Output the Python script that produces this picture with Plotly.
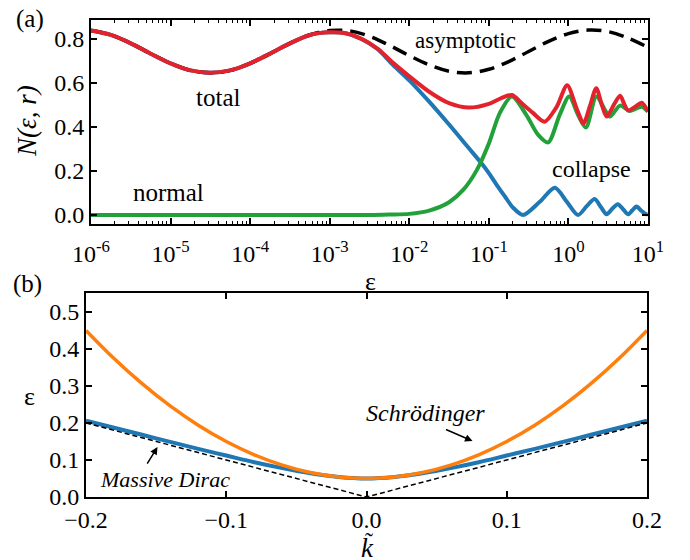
import plotly.graph_objects as go

# ---------------- Panel (a) data (log10 of epsilon, N values) ----------------
asym_log = [-6.0, -5.75, -5.5, -5.25, -5.0, -4.75, -4.5, -4.25, -4.0, -3.75, -3.5, -3.25,
            -3.0, -2.75, -2.5, -2.25, -2.0, -1.75, -1.5, -1.25, -1.0, -0.75, -0.5, -0.25,
            0.0, 0.25, 0.5, 0.75, 1.0]
asym_val = [0.838, 0.818, 0.780, 0.733, 0.689, 0.657, 0.646, 0.657, 0.689, 0.733, 0.780, 0.818,
            0.838, 0.836, 0.812, 0.771, 0.724, 0.682, 0.653, 0.646, 0.662, 0.697, 0.743, 0.789,
            0.824, 0.840, 0.833, 0.804, 0.762]

total_log = [-6.0, -5.75, -5.5, -5.25, -5.0, -4.75, -4.5, -4.25, -4.0, -3.75, -3.5, -3.25,
             -3.0, -2.8, -2.6, -2.4, -2.2, -2.0, -1.75, -1.5, -1.25, -1.0, -0.85, -0.71, -0.58,
             -0.45, -0.30, -0.15, -0.016, 0.10, 0.19, 0.27, 0.35, 0.42, 0.48, 0.57, 0.65,
             0.70, 0.75, 0.84, 0.92, 1.0]
total_val = [0.838, 0.818, 0.780, 0.733, 0.689, 0.657, 0.646, 0.657, 0.689, 0.733, 0.780, 0.818,
             0.830, 0.826, 0.800, 0.756, 0.690, 0.630, 0.560, 0.508, 0.488, 0.505, 0.530, 0.545, 0.505,
             0.465, 0.424, 0.490, 0.590, 0.487, 0.417, 0.495, 0.576, 0.500, 0.447, 0.500, 0.542,
             0.505, 0.475, 0.492, 0.510, 0.470]

collapse_log = [-6.0, -5.75, -5.5, -5.25, -5.0, -4.75, -4.5, -4.25, -4.0, -3.75, -3.5, -3.25,
                -3.0, -2.8, -2.6, -2.4, -2.2, -2.0, -1.75, -1.5, -1.25, -1.1, -1.0, -0.9, -0.8,
                -0.7, -0.57, -0.36, -0.17, -0.02, 0.12, 0.23, 0.33, 0.41, 0.48, 0.55, 0.62,
                0.69, 0.75, 0.80, 0.855, 0.92, 0.98, 1.0]
collapse_val = [0.838, 0.818, 0.780, 0.733, 0.689, 0.657, 0.646, 0.657, 0.689, 0.733, 0.780, 0.818,
                0.830, 0.826, 0.800, 0.754, 0.680, 0.612, 0.515, 0.411, 0.303, 0.238, 0.190, 0.136, 0.085,
                0.035, 0.000, 0.060, 0.124, 0.060, 0.000, 0.040, 0.073, 0.035, 0.003, 0.028, 0.049,
                0.025, 0.003, 0.020, 0.038, 0.018, 0.003, 0.005]

normal_log = [-6.0, -5.0, -4.0, -3.0, -2.5, -2.25, -2.0, -1.75, -1.5, -1.32, -1.15, -1.0,
              -0.86, -0.71, -0.53, -0.38, -0.255, -0.11, 0.01, 0.12, 0.22, 0.35, 0.46, 0.52,
              0.65, 0.77, 0.92, 1.0]
normal_val = [0.0, 0.0, 0.0, 0.0, 0.0, 0.002, 0.005, 0.020, 0.058, 0.115, 0.205, 0.325,
              0.465, 0.538, 0.455, 0.364, 0.330, 0.455, 0.538, 0.455, 0.397, 0.538, 0.477, 0.447,
              0.497, 0.473, 0.492, 0.470]

xticks_a = [1e-6, 1e-5, 1e-4, 1e-3, 1e-2, 1e-1, 1e0, 1e1]
xtick_text_a = ["10<sup>-6</sup>", "10<sup>-5</sup>", "10<sup>-4</sup>", "10<sup>-3</sup>",
                "10<sup>-2</sup>", "10<sup>-1</sup>", "10<sup>0</sup>", "10<sup>1</sup>"]
yticks_a = [0.0, 0.2, 0.4, 0.6, 0.8]

# ---------------- Panel (b) data ----------------
k_vals = [-0.20, -0.18, -0.16, -0.14, -0.12, -0.10, -0.08, -0.06, -0.04, -0.02, 0.00,
          0.02, 0.04, 0.06, 0.08, 0.10, 0.12, 0.14, 0.16, 0.18, 0.20]
schrodinger = [0.450, 0.374, 0.306, 0.246, 0.194, 0.150, 0.114, 0.086, 0.066, 0.054, 0.050,
               0.054, 0.066, 0.086, 0.114, 0.150, 0.194, 0.246, 0.306, 0.374, 0.450]
dirac = [0.206, 0.187, 0.168, 0.149, 0.130, 0.112, 0.094, 0.078, 0.064, 0.054, 0.050,
         0.054, 0.064, 0.078, 0.094, 0.112, 0.130, 0.149, 0.168, 0.187, 0.206]
k_lin = [-0.2, 0.0, 0.2]
massless = [0.2, 0.0, 0.2]

RED = "#e3232c"
BLUE = "#1f77b4"
GREEN = "#22a13a"
ORANGE = "#ff7f0e"
FONT = "Liberation Serif"

def to_eps(lst):
    return [10 ** v for v in lst]

fig = go.Figure()

# panel (a)
fig.add_trace(go.Scatter(x=to_eps(collapse_log), y=collapse_val, mode="lines",
                         line=dict(color=BLUE, width=4, shape="spline", smoothing=0.8),
                         xaxis="x", yaxis="y", showlegend=False))
fig.add_trace(go.Scatter(x=to_eps(normal_log), y=normal_val, mode="lines",
                         line=dict(color=GREEN, width=4, shape="spline", smoothing=0.8),
                         xaxis="x", yaxis="y", showlegend=False))
fig.add_trace(go.Scatter(x=to_eps(asym_log), y=asym_val, mode="lines",
                         line=dict(color="black", width=3.5, dash="15px,8px", shape="spline"),
                         xaxis="x", yaxis="y", showlegend=False))
fig.add_trace(go.Scatter(x=to_eps(total_log), y=total_val, mode="lines",
                         line=dict(color=RED, width=4, shape="spline", smoothing=0.8),
                         xaxis="x", yaxis="y", showlegend=False))

# panel (b)
fig.add_trace(go.Scatter(x=k_vals, y=dirac, mode="lines",
                         line=dict(color=BLUE, width=4, shape="spline"),
                         xaxis="x2", yaxis="y2", showlegend=False))
fig.add_trace(go.Scatter(x=k_vals, y=schrodinger, mode="lines",
                         line=dict(color=ORANGE, width=3.5, shape="spline"),
                         xaxis="x2", yaxis="y2", showlegend=False))
fig.add_trace(go.Scatter(x=k_lin, y=massless, mode="lines",
                         line=dict(color="black", width=1.5, dash="5px,3px"),
                         xaxis="x2", yaxis="y2", showlegend=False))

def axis_style():
    return dict(showline=True, linecolor="black", linewidth=2, mirror="ticks",
                ticks="inside", ticklen=6, tickwidth=2, tickcolor="black",
                showgrid=False, zeroline=False,
                tickfont=dict(family=FONT, size=24, color="black"))

fig.update_layout(
    width=690, height=560,
    margin=dict(l=0, r=0, t=0, b=0, autoexpand=False),
    paper_bgcolor="white", plot_bgcolor="white",
    xaxis=dict(domain=[91 / 690, 648 / 690], anchor="y", type="log", range=[-6, 1],
               tickvals=xticks_a, ticktext=xtick_text_a, ticklabelstandoff=7,
               minor=dict(ticks="inside", ticklen=3, tickwidth=1, tickcolor="black", dtick="D1"),
               **axis_style()),
    yaxis=dict(domain=[1 - 224 / 560, 1 - 20 / 560], anchor="x", range=[-0.041, 0.886],
               tickvals=yticks_a, tickformat=".1f", **axis_style()),
    xaxis2=dict(domain=[86 / 690, 647 / 690], anchor="y2", range=[-0.2, 0.2],
                dtick=0.1, tick0=0, tickformat=".1f", **axis_style()),
    yaxis2=dict(domain=[1 - 497 / 560, 1 - 293 / 560], anchor="x2", range=[0, 0.551],
                dtick=0.1, tick0=0, tickformat=".1f", **axis_style()),
)

ann = []
def txt(text, x, y, xref, yref, size, italic=False, angle=0):
    t = "<i>" + text + "</i>" if italic else text
    ann.append(dict(text=t, x=x, y=y, xref=xref, yref=yref, showarrow=False,
                    font=dict(family=FONT, size=size, color="black"),
                    xanchor="center", yanchor="middle", textangle=angle))

# panel labels & axis titles (paper)
txt("(a)", 30 / 690, 1 - 19 / 560, "paper", "paper", 25)
txt("(b)", 28 / 690, 1 - 284 / 560, "paper", "paper", 25)
txt("N(ε, r)", 27 / 690, 1 - 121 / 560, "paper", "paper", 27, italic=True, angle=-90)
txt("ε", 370 / 690, 1 - 281 / 560, "paper", "paper", 26)
txt("ε", 29 / 690, 1 - 396 / 560, "paper", "paper", 26)
txt("k", 367 / 690, 1 - 548 / 560, "paper", "paper", 27, italic=True)
txt("˜", 369 / 690, 1 - 541 / 560, "paper", "paper", 24)

# panel (a) curve labels (x in log10 units)
txt("total", -4.40, 0.536, "x", "y", 25)
txt("asymptotic", -1.29, 0.795, "x", "y", 23)
txt("normal", -5.02, 0.10, "x", "y", 25)
txt("collapse", 0.294, 0.209, "x", "y", 24)

# panel (b) labels
txt("Schrödinger", 0.042, 0.227, "x2", "y2", 24, italic=True)
txt("Massive Dirac", -0.144, 0.046, "x2", "y2", 22, italic=True)

ann.append(dict(x=0.0756, y=0.151, ax=0.0556, ay=0.184, xref="x2", yref="y2",
                axref="x2", ayref="y2", text="", showarrow=True, arrowhead=2,
                arrowsize=1, arrowwidth=1.5, arrowcolor="black"))
ann.append(dict(x=-0.149, y=0.135, ax=-0.157, ay=0.086, xref="x2", yref="y2",
                axref="x2", ayref="y2", text="", showarrow=True, arrowhead=2,
                arrowsize=1, arrowwidth=1.5, arrowcolor="black"))

fig.update_layout(annotations=ann)

fig.write_html("out.html")
